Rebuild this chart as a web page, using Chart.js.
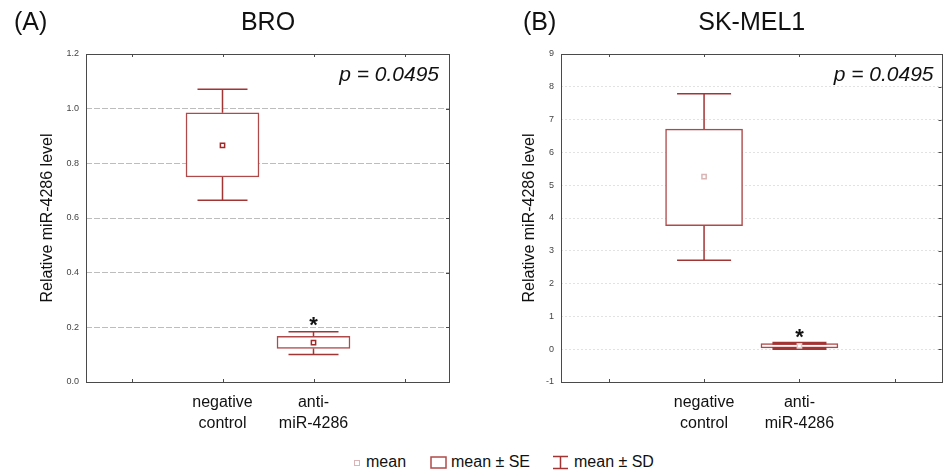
<!DOCTYPE html>
<html>
<head>
<meta charset="utf-8">
<script src="https://cdn.jsdelivr.net/npm/chart.js@4"></script>
<style>
  body { margin: 0; background: #fff; font-family: "Liberation Sans", Arial, sans-serif; }
  #wrap { position: relative; width: 943px; height: 471px; overflow: hidden; }
  canvas { position: absolute; top: 0; }
  .lbl { position: absolute; color: #111; font-size: 25px; white-space: nowrap; line-height: 1; }
  #legend { position: absolute; top: 452px; left: 0; width: 943px; height: 20px; font-size: 16px; color: #111; }
  #legend span, #legend svg { position: absolute; }
</style>
</head>
<body>
<div id="wrap">
  <canvas id="graficoA" width="470" height="440" style="left:0"></canvas>
  <canvas id="graficoB" width="478" height="440" style="left:470px"></canvas>
  <div class="lbl" style="left:14px;top:9px">(A)</div>
  <div class="lbl" style="left:523px;top:9px">(B)</div>
  <div id="legend">
    <svg width="6" height="6" style="left:354px;top:8px"><rect x="0.5" y="0.5" width="5" height="5" fill="#fff" stroke="#d9b5b5"/></svg>
    <span style="left:366px;top:1px">mean</span>
    <svg width="17" height="13" style="left:430px;top:4px"><rect x="1" y="1" width="15" height="11" fill="#fff" stroke="#b04a4a" stroke-width="1.5"/></svg>
    <span style="left:451px;top:1px">mean ± SE</span>
    <svg width="17" height="15" style="left:552px;top:3px"><path d="M1 1.5H16M1 13.5H16M8.5 1.5V13.5" stroke="#a33434" stroke-width="1.5" fill="none"/></svg>
    <span style="left:574px;top:1px">mean ± SD</span>
  </div>
</div>
<script>
const categorias = ['', ['negative', 'control'], ['anti-', 'miR-4286'], ''];

// BRO
const broMedia = [null, 0.866, 0.144, null];
const broSE = [null, [0.750, 0.985], [0.123, 0.167], null];
const broSD = [null, [0.665, 1.071], [0.101, 0.184], null];

// SK-MEL1
const skMedia = [null, 5.26, 0.10, null];
const skSE = [null, [3.765, 6.71], [0.04, 0.168], null];
const skSD = [null, [2.71, 7.79], [0.02, 0.18], null];

const pValor = 'p = 0.0495';
const corSD = '#a33434';
const corSE = '#b04a4a';

const desenhoExtra = {
  id: 'desenhoExtra',
  afterDatasetDraw(chart, args, opts) {
    if (args.meta.type !== 'bar') return;
    const ctx = chart.ctx;
    const x = chart.scales.x, y = chart.scales.y;
    ctx.save();
    ctx.strokeStyle = corSD;
    opts.sd.forEach((v, i) => {
      if (!v) return;
      const se = opts.se[i];
      const cx = x.getPixelForValue(i);
      const half = opts.capa / 2;
      ctx.lineWidth = opts.larguraSD[i];
      ctx.beginPath();
      ctx.moveTo(cx, y.getPixelForValue(v[1]));
      ctx.lineTo(cx, y.getPixelForValue(se[1]));
      ctx.moveTo(cx, y.getPixelForValue(v[0]));
      ctx.lineTo(cx, y.getPixelForValue(se[0]));
      ctx.moveTo(cx - half, y.getPixelForValue(v[1]));
      ctx.lineTo(cx + half, y.getPixelForValue(v[1]));
      ctx.moveTo(cx - half, y.getPixelForValue(v[0]));
      ctx.lineTo(cx + half, y.getPixelForValue(v[0]));
      ctx.stroke();
    });
    ctx.restore();
  },
  afterDraw(chart, args, opts) {
    const ctx = chart.ctx;
    const a = chart.chartArea;
    const x = chart.scales.x, y = chart.scales.y;
    ctx.save();
    // moldura
    ctx.strokeStyle = '#4a4a4a';
    ctx.lineWidth = 1;
    ctx.strokeRect(Math.round(a.left) + 0.5, Math.round(a.top) + 0.5,
      Math.round(a.right - a.left) - 1, Math.round(a.bottom - a.top));
    // marcas internas
    ctx.beginPath();
    categorias.forEach((c, i) => {
      const px = Math.round(x.getPixelForValue(i)) + 0.5;
      ctx.moveTo(px, a.top); ctx.lineTo(px, a.top + 3);
      ctx.moveTo(px, a.bottom); ctx.lineTo(px, a.bottom - 3);
    });
    y.ticks.forEach(t => {
      const py = Math.round(y.getPixelForValue(t.value)) + 0.5;
      ctx.moveTo(a.right - 1, py); ctx.lineTo(a.right - 4, py);
    });
    ctx.stroke();
    // titulo
    ctx.fillStyle = '#111';
    ctx.font = '25px "Liberation Sans", Arial, sans-serif';
    ctx.textAlign = 'center';
    ctx.textBaseline = 'alphabetic';
    ctx.fillText(opts.titulo, (a.left + a.right) / 2, 30);
    // valor p
    ctx.font = 'italic 21px "Liberation Sans", Arial, sans-serif';
    ctx.textAlign = 'right';
    ctx.fillText(pValor, a.right - opts.margemP, a.top + 27);
    // asterisco
    ctx.font = 'bold 22px "Liberation Sans", Arial, sans-serif';
    ctx.textAlign = 'center';
    const topo = y.getPixelForValue(opts.sd[2][1]);
    ctx.fillText('*', x.getPixelForValue(2), topo + opts.subirAst);
    ctx.restore();
  }
};

function gerarGrafico(id, opcoes) {
  new Chart(document.getElementById(id), {
    type: 'bar',
    data: {
      labels: categorias,
      datasets: [{
        type: 'bar',
        label: 'mean ± SE',
        data: opcoes.se,
        backgroundColor: '#fff',
        borderColor: corSE,
        borderWidth: 1.5,
        borderSkipped: false,
        barThickness: opcoes.larguraCaixa,
        order: 2
      }, {
        type: 'line',
        label: 'mean',
        data: opcoes.media,
        showLine: false,
        pointStyle: 'rect',
        pointRadius: 3,
        pointBorderWidth: 1.5,
        pointBorderColor: opcoes.corMedia,
        pointBackgroundColor: '#fff',
        order: 1
      }]
    },
    options: {
      responsive: false,
      animation: false,
      devicePixelRatio: 1,
      layout: { padding: { top: 54, left: opcoes.padEsq, right: opcoes.padDir, bottom: 0 } },
      plugins: {
        legend: { display: false },
        tooltip: { enabled: false },
        desenhoExtra: {
          titulo: opcoes.titulo,
          sd: opcoes.sd,
          se: opcoes.se,
          capa: opcoes.capa,
          larguraSD: opcoes.larguraSD,
          margemP: opcoes.margemP,
          subirAst: opcoes.subirAst
        }
      },
      scales: {
        x: {
          offset: true,
          grid: { display: false },
          border: { display: false },
          ticks: {
            color: '#111',
            padding: 2,
            maxRotation: 0,
            autoSkip: false,
            font: { size: 16, family: '"Liberation Sans", Arial, sans-serif', lineHeight: 1.3 }
          },
          afterFit: s => { s.height = 58; }
        },
        y: {
          min: opcoes.min,
          max: opcoes.max,
          grid: {
            drawTicks: false,
            color: c => (c.tick.value === opcoes.min || c.tick.value === opcoes.max) ? 'rgba(0,0,0,0)' : opcoes.corGrade
          },
          border: { display: false, dash: opcoes.traco },
          ticks: {
            stepSize: opcoes.passo,
            padding: 7,
            color: '#444',
            font: { size: 9, family: '"Liberation Sans", Arial, sans-serif' },
            callback: opcoes.formato
          },
          title: {
            display: true,
            text: 'Relative miR-4286 level',
            color: '#111',
            font: { size: 16, family: '"Liberation Sans", Arial, sans-serif' }
          },
          afterFit: s => { s.width = opcoes.larguraY; }
        }
      }
    },
    plugins: [desenhoExtra]
  });
}

gerarGrafico('graficoA', {
  titulo: 'BRO',
  media: broMedia, se: broSE, sd: broSD,
  min: 0, max: 1.2, passo: 0.2,
  formato: v => v.toFixed(1),
  corMedia: ['#a02828', '#a02828', '#a02828', '#a02828'],
  corGrade: '#bdbdbd', traco: [6, 2],
  larguraCaixa: 73, capa: 50, larguraSD: [0, 1.5, 1.5, 0],
  padEsq: 34, larguraY: 52, padDir: 20, margemP: 11, subirAst: 0
});

gerarGrafico('graficoB', {
  titulo: 'SK-MEL1',
  media: skMedia, se: skSE, sd: skSD,
  min: -1, max: 9, passo: 1,
  formato: v => v,
  corMedia: ['#d9b5b5', '#d9b5b5', '#e5cccc', '#d9b5b5'],
  corGrade: '#e2e2e2', traco: [2, 2],
  larguraCaixa: 77, capa: 54, larguraSD: [0, 1.5, 3, 0],
  padEsq: 46, larguraY: 45, padDir: 1, margemP: 9, subirAst: 1
});
</script>
</body>
</html>
